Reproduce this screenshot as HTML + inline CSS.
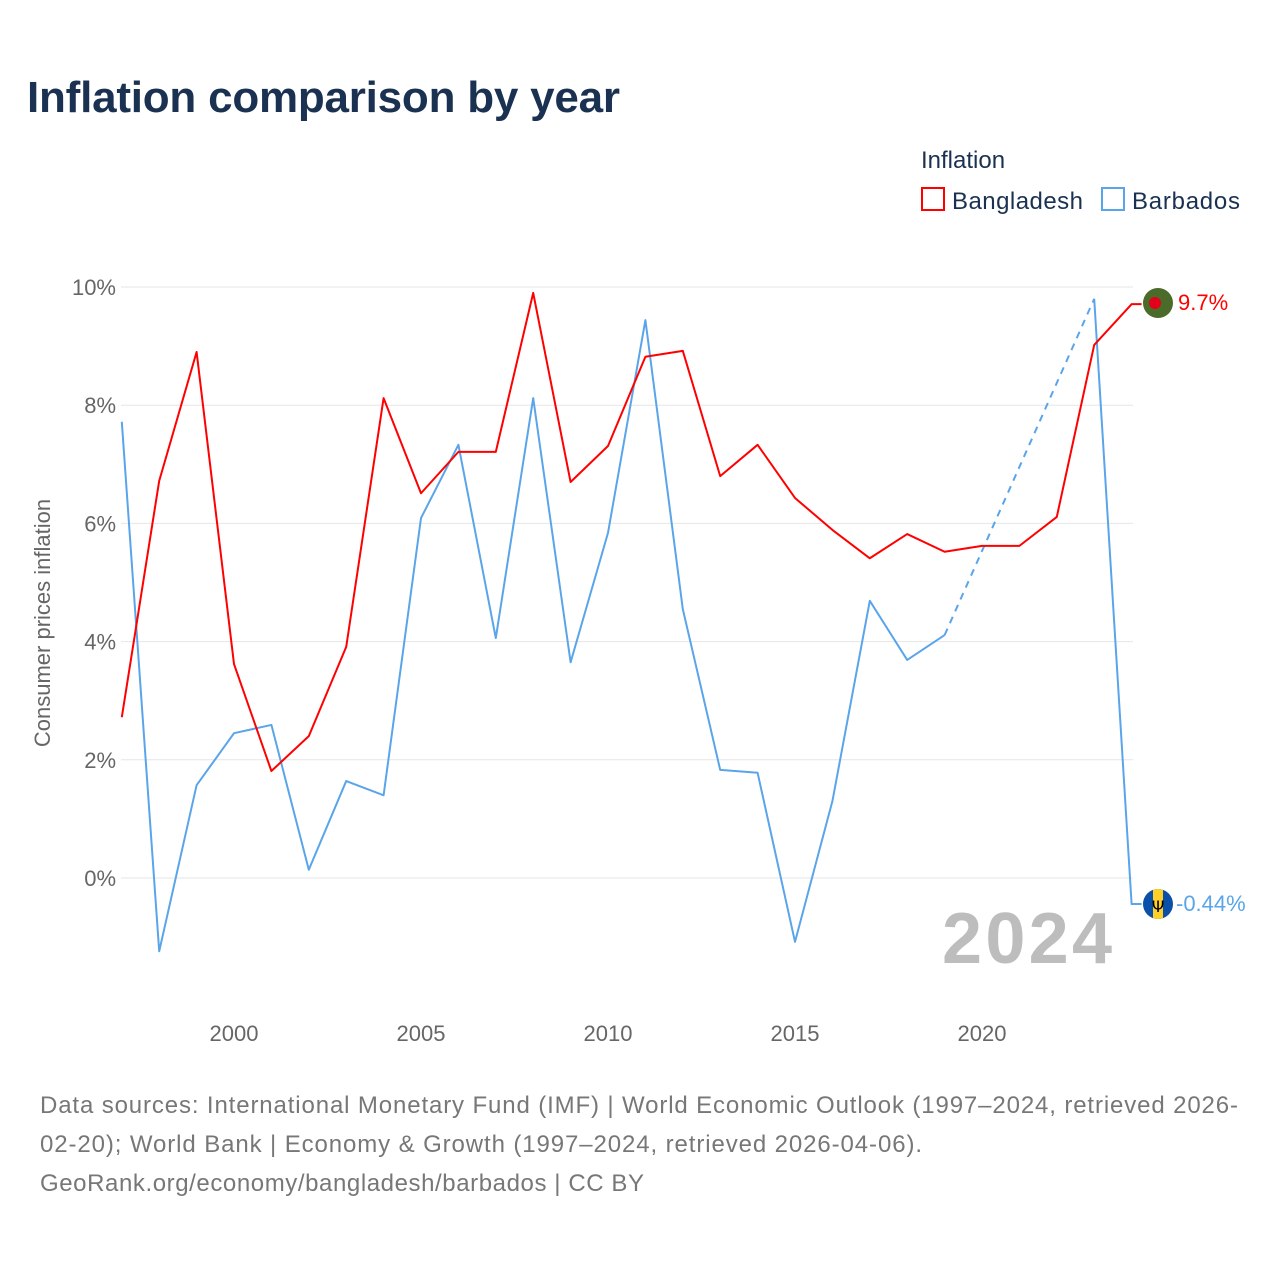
<!DOCTYPE html>
<html><head><meta charset="utf-8"><style>
body{margin:0;background:#fff;width:1280px;height:1280px;overflow:hidden;font-family:"Liberation Sans",sans-serif}
</style></head><body>
<svg width="1280" height="1280" font-family="Liberation Sans, sans-serif">
<text x="27" y="112" font-size="44" font-weight="bold" fill="#1b3152" textLength="593">Inflation comparison by year</text>
<text x="921" y="168" font-size="24" fill="#1b3152">Inflation</text>
<g><rect x="922" y="188" width="22" height="22" fill="none" stroke="#ff0000" stroke-width="2"/><text x="952" y="209" font-size="24" fill="#1b3152" textLength="131">Bangladesh</text></g>
<g><rect x="1102" y="188" width="22" height="22" fill="none" stroke="#5aa5ea" stroke-width="2"/><text x="1132" y="209" font-size="24" fill="#1b3152" textLength="108">Barbados</text></g>
<text transform="translate(50,623) rotate(-90)" text-anchor="middle" font-size="22" fill="#666">Consumer prices inflation</text>
<g id="grid"></g><g id="lines"></g>
<text x="1112" y="963" text-anchor="end" font-size="72" font-weight="bold" fill="#bdbdbd" textLength="170">2024</text>
<g><circle cx="1158" cy="303" r="15" fill="#4a6b2a"/><circle cx="1155" cy="303" r="6" fill="#e2001a"/></g>
<g><clipPath id="cb"><circle cx="1158" cy="904" r="15"/></clipPath><g clip-path="url(#cb)"><rect x="1143" y="889" width="30" height="30" fill="#0a4fa8"/><rect x="1153" y="889" width="10" height="30" fill="#ffd02a"/></g><text x="1158" y="912" text-anchor="middle" font-size="16" font-family="DejaVu Sans" fill="#000">Ψ</text></g>
<text x="1178" y="310" font-size="22" fill="#ff0000">9.7%</text>
<text x="1176" y="911" font-size="22" fill="#5aa5ea">-0.44%</text>
<g font-size="24" fill="#777">
<text x="40" y="1113" textLength="1198">Data sources: International Monetary Fund (IMF) | World Economic Outlook (1997–2024, retrieved 2026-</text>
<text x="40" y="1152" textLength="882">02-20); World Bank | Economy &amp; Growth (1997–2024, retrieved 2026-04-06).</text>
<text x="40" y="1191" textLength="604">GeoRank.org/economy/bangladesh/barbados | CC BY</text>
</g>
</svg>
<script>
const years=[1997,1998,1999,2000,2001,2002,2003,2004,2005,2006,2007,2008,2009,2010,2011,2012,2013,2014,2015,2016,2017,2018,2019,2020,2021,2022,2023,2024];
const bangladesh=[2.72,6.72,8.9,3.62,1.81,2.4,3.91,8.12,6.51,7.21,7.21,9.9,6.7,7.31,8.82,8.92,6.8,7.33,6.43,5.89,5.41,5.82,5.52,5.62,5.62,6.11,9.02,9.71];
const barbados=[7.72,-1.24,1.57,2.45,2.59,0.14,1.64,1.4,6.09,7.33,4.06,8.12,3.65,5.84,9.44,4.55,1.83,1.78,-1.08,1.3,4.69,3.69,4.11,null,null,null,9.8,-0.44];
const yTicks=[0,2,4,6,8,10];
const xTicks=[2000,2005,2010,2015,2020];
const NS="http://www.w3.org/2000/svg";
const x=v=>121.8+(v-1997)*37.4;
const y=v=>878-v*59.1;
const grid=document.getElementById('grid'),lines=document.getElementById('lines');
function mk(tag,attrs,parent){const e=document.createElementNS(NS,tag);for(const k in attrs)e.setAttribute(k,attrs[k]);parent.appendChild(e);return e;}
yTicks.forEach(t=>{
 const l=mk('line',{x1:121,x2:1133,y1:y(t),y2:y(t),stroke:'#e6e6e6','stroke-width':1},grid);
 
 
 const tx=mk('text',{x:116,y:y(t)+8,'text-anchor':'end','font-size':22,fill:'#666'},grid);
 tx.textContent=t+'%';
 
 
});
xTicks.forEach(t=>{
 const tx=mk('text',{x:x(t),y:1041,'text-anchor':'middle','font-size':22,fill:'#666'},grid);
 tx.textContent=t;
 
 
});
function series(vals,color,name){
 let segs=[],cur=[],gaps=[],last=null;
 vals.forEach((v,i)=>{
  if(v==null){if(cur.length)segs.push(cur);cur=[];return;}
  const p=[x(years[i]),y(v)];
  if(!cur.length&&last&&last.i<i-1)gaps.push([last.p,p]);
  cur.push(p);last={i,p};
 });
 if(cur.length)segs.push(cur);
 const lp=segs[segs.length-1];const end=lp[lp.length-1];lp.push([end[0]+10,end[1]]);
 segs.forEach(s=>{
  const pl=mk('polyline',{points:s.map(p=>p.join(',')).join(' '),fill:'none',stroke:color,'stroke-width':2,'stroke-linejoin':'round'},lines);
  
  
 });
 gaps.forEach(g=>{
  const d=mk('line',{x1:g[0][0],y1:g[0][1],x2:g[1][0],y2:g[1][1],stroke:color,'stroke-width':2,'stroke-dasharray':'7,6'},lines);
  
  
 });
}
series(barbados,'#5aa5ea','barbados');
series(bangladesh,'#ff0000','bangladesh');
</script>
</body></html>
